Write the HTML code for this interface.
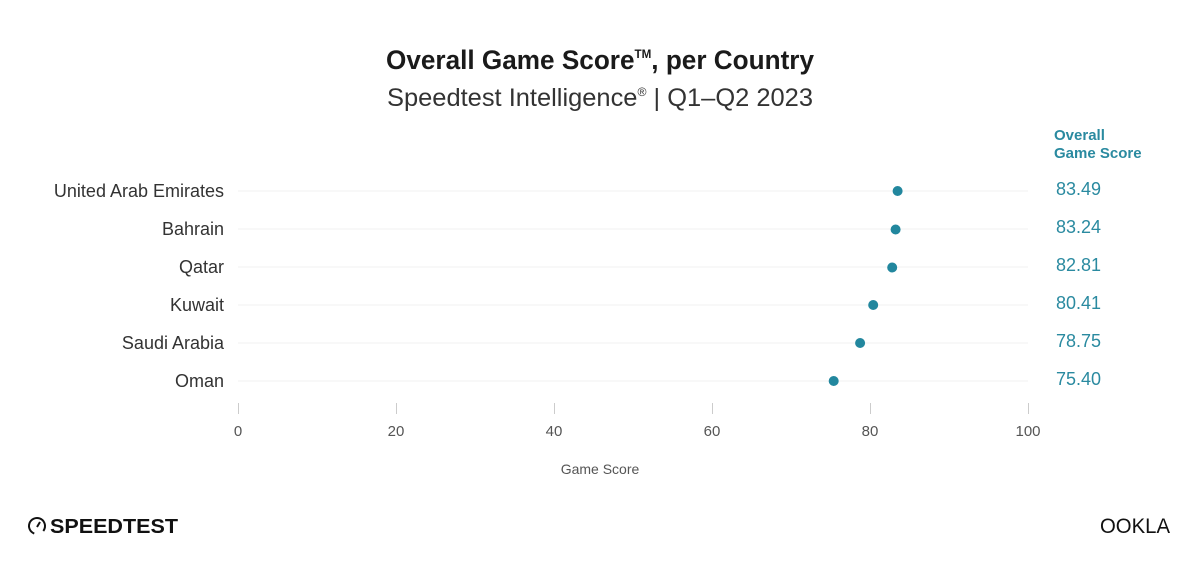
<!DOCTYPE html>
<html><head><style>
body{margin:0;background:#fff;}
text{font-family:"Liberation Sans",sans-serif;}
</style></head><body>
<svg width="1200" height="570" xmlns="http://www.w3.org/2000/svg">
<rect width="1200" height="570" fill="#fff"/>
<text x="600" y="69" text-anchor="middle" font-size="27" font-weight="bold" fill="#1a1a1a" textLength="428" lengthAdjust="spacingAndGlyphs">Overall Game Score<tspan font-size="12" dy="-11">TM</tspan><tspan dy="11">, per Country</tspan></text>
<text x="600" y="106" text-anchor="middle" font-size="25" fill="#333" textLength="426" lengthAdjust="spacingAndGlyphs">Speedtest Intelligence<tspan font-size="12" dy="-10">®</tspan><tspan dy="10"> | Q1–Q2 2023</tspan></text>
<text x="1054" y="140" font-size="15" font-weight="bold" fill="#2a8aa0">Overall</text>
<text x="1054" y="158" font-size="15" font-weight="bold" fill="#2a8aa0">Game Score</text>
<g stroke="#f0f0f0" stroke-width="1">
<line x1="238" x2="1028" y1="191" y2="191"/><line x1="238" x2="1028" y1="229" y2="229"/>
<line x1="238" x2="1028" y1="267" y2="267"/><line x1="238" x2="1028" y1="305" y2="305"/>
<line x1="238" x2="1028" y1="343" y2="343"/><line x1="238" x2="1028" y1="381" y2="381"/>
</g>
<g stroke="#ccc" stroke-width="1">
<line x1="238.5" x2="238.5" y1="403" y2="414"/><line x1="396.5" x2="396.5" y1="403" y2="414"/>
<line x1="554.5" x2="554.5" y1="403" y2="414"/><line x1="712.5" x2="712.5" y1="403" y2="414"/>
<line x1="870.5" x2="870.5" y1="403" y2="414"/><line x1="1028.5" x2="1028.5" y1="403" y2="414"/>
</g>
<g font-size="15" fill="#555" text-anchor="middle">
<text x="238" y="436">0</text><text x="396" y="436">20</text><text x="554" y="436">40</text>
<text x="712" y="436">60</text><text x="870" y="436">80</text><text x="1028" y="436">100</text>
</g>
<text x="600" y="474" text-anchor="middle" font-size="14" fill="#555">Game Score</text>
<g font-size="18" fill="#333" text-anchor="end">
<text x="224" y="197">United Arab Emirates</text><text x="224" y="235">Bahrain</text>
<text x="224" y="273">Qatar</text><text x="224" y="311">Kuwait</text>
<text x="224" y="349">Saudi Arabia</text><text x="224" y="387">Oman</text>
</g>
<g fill="#22879e">
<circle cx="897.6" cy="191" r="5"/><circle cx="895.6" cy="229.5" r="5"/>
<circle cx="892.2" cy="267.5" r="5"/><circle cx="873.2" cy="305" r="5"/>
<circle cx="860.1" cy="343" r="5"/><circle cx="833.7" cy="381" r="5"/>
</g>
<g font-size="18" fill="#2a8aa0">
<text x="1056" y="195">83.49</text><text x="1056" y="233">83.24</text>
<text x="1056" y="271">82.81</text><text x="1056" y="309">80.41</text>
<text x="1056" y="347">78.75</text><text x="1056" y="385">75.40</text>
</g>
<circle cx="37" cy="526" r="8" fill="none" stroke="#111" stroke-width="2" stroke-dasharray="40 10" transform="rotate(110 37 526)"/>
<line x1="37" y1="527" x2="40" y2="522" stroke="#111" stroke-width="2"/>
<text x="50" y="533" font-size="20" font-weight="bold" fill="#111" textLength="128" lengthAdjust="spacingAndGlyphs">SPEEDTEST</text>
<text x="1100" y="533" font-size="21" fill="#111" textLength="70" lengthAdjust="spacingAndGlyphs">OOKLA</text>
</svg>
</body></html>
